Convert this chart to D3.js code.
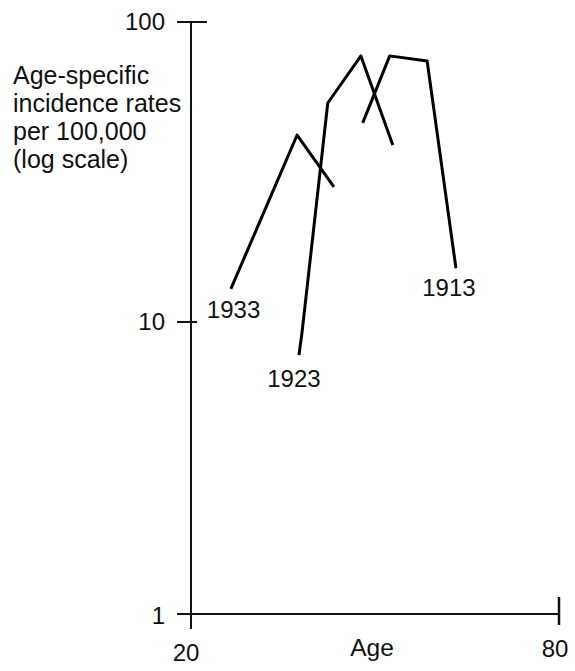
<!DOCTYPE html>
<html>
<head>
<meta charset="utf-8">
<script src="https://cdn.jsdelivr.net/npm/d3@7"></script>
<style>
  html, body { margin: 0; padding: 0; background: #fff; }
  svg { display: block; }
  text { font-family: "Liberation Sans", Arial, sans-serif; fill: #111; }
</style>
</head>
<body>
<script>
// ---- data ----
const cohorts = ["1933", "1923", "1913"];
const age1933 = [26.5, 37.3, 43.3];
const rate1933 = [12.9, 42.0, 28.2];
const age1923 = [37.6, 38.1, 42.3, 47.7, 52.9];
const rate1923 = [7.7, 9.2, 53.7, 77.1, 38.9];
const age1913 = [48.0, 52.4, 58.5, 63.2];
const rate1913 = [46.1, 77.1, 74.1, 15.1];
const yTickValues = [1, 10, 100];
const xTickValues = [20, 80];
const yTitleLines = ["Age-specific", "incidence rates", "per 100,000", "(log scale)"];
const xTitle = "Age";

// ---- layout ----
const W = 575, H = 671;
const svg = d3.select("body").append("svg").attr("width", W).attr("height", H);

const x = d3.scaleLinear().domain([20, 80]).range([191, 559]);
const y = d3.scaleLog().domain([1, 10, 100]).range([614, 322, 22]);

const ink = "#111";

// y axis line
svg.append("line").attr("x1", x(20)).attr("x2", x(20))
  .attr("y1", y(100)).attr("y2", y(1) + 15)
  .attr("stroke", ink).attr("stroke-width", 2);
// x axis line
svg.append("line").attr("x1", x(20) - 14).attr("x2", x(80))
  .attr("y1", y(1)).attr("y2", y(1))
  .attr("stroke", ink).attr("stroke-width", 2);

// y ticks
const yTickExt = {1: [14, 0], 10: [14, 6], 100: [14, 16]};
yTickValues.forEach(v => {
  const [l, r] = yTickExt[v];
  svg.append("line").attr("x1", x(20) - l).attr("x2", x(20) + r)
    .attr("y1", y(v)).attr("y2", y(v))
    .attr("stroke", ink).attr("stroke-width", 2);
  svg.append("text").attr("x", 165).attr("y", y(v) + (v === 1 ? 10 : 8))
    .attr("text-anchor", "end").attr("font-size", 24).text(v);
});

// x right tick
svg.append("line").attr("x1", x(80)).attr("x2", x(80))
  .attr("y1", y(1) - 17).attr("y2", y(1) + 11)
  .attr("stroke", ink).attr("stroke-width", 2.5);

// x tick labels
xTickValues.forEach(v => {
  svg.append("text").attr("x", x(v) - (v === 20 ? 5 : 4))
    .attr("y", v === 20 ? 661 : 657)
    .attr("text-anchor", "middle").attr("font-size", 24).text(v);
});
svg.append("text").attr("x", 372).attr("y", 656)
  .attr("text-anchor", "middle").attr("font-size", 24.5).text(xTitle);

// y title
const yt = svg.append("text").attr("font-size", 25);
yTitleLines.forEach((t, i) => {
  yt.append("tspan").attr("x", 13).attr("y", 84 + i * 28).text(t);
});

// lines
const line = d3.line().x(d => x(d[0])).y(d => y(d[1]));
const series = [
  {name: cohorts[0], pts: d3.zip(age1933, rate1933), lab: "start", dx: -24, dy: 29, anchor: "start"},
  {name: cohorts[1], pts: d3.zip(age1923, rate1923), lab: "start", dx: -5, dy: 32, anchor: "middle"},
  {name: cohorts[2], pts: d3.zip(age1913, rate1913), lab: "end", dx: -7, dy: 28, anchor: "middle"}
];
series.forEach(s => {
  svg.append("path").attr("d", line(s.pts))
    .attr("fill", "none").attr("stroke", "#000")
    .attr("stroke-width", 3).attr("stroke-linejoin", "round");
  const p = s.lab === "start" ? s.pts[0] : s.pts[s.pts.length - 1];
  svg.append("text")
    .attr("x", x(p[0]) + s.dx)
    .attr("y", y(p[1]) + s.dy)
    .attr("text-anchor", s.anchor)
    .attr("font-size", 24)
    .text(s.name);
});
</script>
</body>
</html>
